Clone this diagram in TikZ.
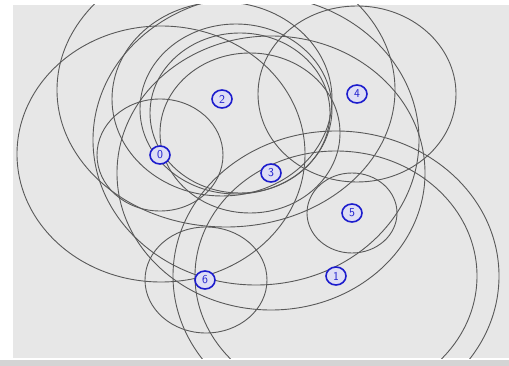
\documentclass[tikz,border=0pt]{standalone}
\usepackage{xcolor}
\usepackage{tikz}
\usetikzlibrary{shapes.geometric}
\definecolor{panelgray}{RGB}{231,231,231}
\definecolor{bargray}{RGB}{212,212,212}
\definecolor{ringblue}{RGB}{28,28,205}
\definecolor{ringfill}{RGB}{222,222,245}
\tikzset{
  rangering/.style={draw=black!65, line width=0.9pt},
  sensornode/.style={
    ellipse, draw=ringblue, line width=1.6pt, fill=ringfill,
    minimum width=20pt, minimum height=18pt, inner sep=0pt,
    font=\sffamily\fontsize{12}{12}\selectfont, text=ringblue
  },
}

\begin{document}
\begin{tikzpicture}[x=1pt, y=-1pt]
  % Frame
  \useasboundingbox (0,0) rectangle (509,366);
  \fill[white] (0,0) rectangle (509,366);
  \fill[panelgray] (13,5) rectangle (509,358);
  \fill[bargray] (0,360) rectangle (509,366);

  % Sensor positions
  \coordinate (c0) at (160,155);
  \coordinate (c1) at (336,276);
  \coordinate (c2) at (222,99);
  \coordinate (c3) at (271,173);
  \coordinate (c4) at (357,94);
  \coordinate (c5) at (352,213);
  \coordinate (c6) at (205,280);

  % Range circles
  \begin{scope}
    \clip (13,5) rectangle (509,358);
    \draw[rangering] (c0) ellipse [x radius=63, y radius=56];
    \draw[rangering] (161,154) ellipse [x radius=144, y radius=128];
    \draw[rangering] (c1) ellipse [x radius=163, y radius=145];
    \draw[rangering] (c1) ellipse [x radius=141, y radius=125];
    \draw[rangering] (c2) ellipse [x radius=110, y radius=97];
    \draw[rangering] (226,90) ellipse [x radius=169, y radius=137];
    \draw[rangering] (c3) ellipse [x radius=154, y radius=137];
    \draw[rangering] (c4) ellipse [x radius=99, y radius=88];
    \draw[rangering] (c5) ellipse [x radius=45, y radius=40];
    \draw[rangering] (206,280) ellipse [x radius=61, y radius=53];
    \draw[rangering] (236,109) ellipse [x radius=96, y radius=85];
    \draw[rangering] (240,113) ellipse [x radius=90, y radius=80];
    \draw[rangering] (250,133) ellipse [x radius=90, y radius=80];
    \draw[rangering] (256,140) ellipse [x radius=163, y radius=145];
  \end{scope}

  % Sensors
  \node[sensornode] (n0) at (c0) {0};
  \node[sensornode] (n1) at (c1) {1};
  \node[sensornode] (n2) at (c2) {2};
  \node[sensornode] (n3) at (c3) {3};
  \node[sensornode] (n4) at (c4) {4};
  \node[sensornode] (n5) at (c5) {5};
  \node[sensornode] (n6) at (c6) {6};
\end{tikzpicture}
\end{document}
